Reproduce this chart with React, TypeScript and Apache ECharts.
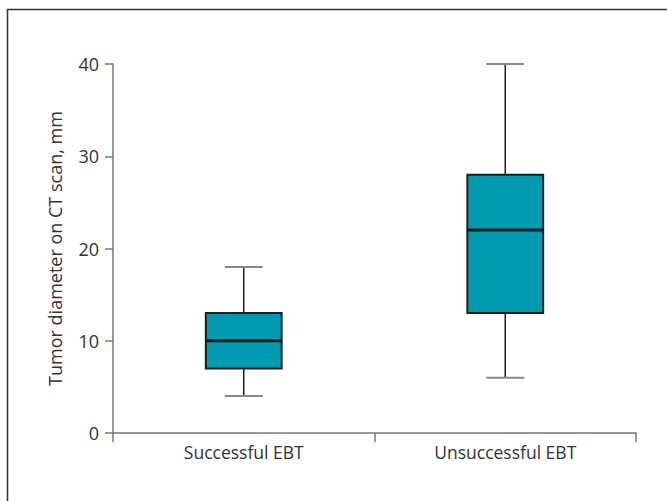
import React, { useEffect, useRef } from "react";
import * as echarts from "echarts";

const categories = ["Successful EBT", "Unsuccessful EBT"];
const mins = [4, 6];
const q1s = [7, 13];
const medians = [10, 22];
const q3s = [13, 28];
const maxs = [18, 40];
const yTicks = [0, 10, 20, 30, 40];

export default function App() {
  const ref = useRef<HTMLDivElement>(null);
  useEffect(() => {
    const chart = echarts.init(ref.current!, null, { renderer: "svg" });
    const data = categories.map((_, i) => [i, mins[i], q1s[i], medians[i], q3s[i], maxs[i]]);
    const fontFamily = "'Open Sans', 'Noto Sans', sans-serif";
    chart.setOption({
      animation: false,
      backgroundColor: "#ffffff",
      grid: { left: 113, right: 31, top: 64, bottom: 68, containLabel: false },
      xAxis: {
        type: "category",
        data: categories,
        boundaryGap: true,
        axisLine: { lineStyle: { color: "#777777", width: 1.5 } },
        axisTick: { show: true, length: 9, lineStyle: { color: "#777777", width: 1.5 } },
        axisLabel: { color: "#333333", fontSize: 17.5, fontFamily, margin: 10 },
        splitLine: { show: false },
      },
      yAxis: {
        type: "value",
        min: yTicks[0],
        max: yTicks[yTicks.length - 1],
        interval: 10,
        name: "Tumor diameter on CT scan, mm",
        nameLocation: "middle",
        nameGap: 49,
        nameTextStyle: { color: "#333333", fontSize: 18, fontFamily },
        axisLine: { show: true, lineStyle: { color: "#777777", width: 1.5 } },
        axisTick: { show: true, length: 8, lineStyle: { color: "#777777", width: 1.5 } },
        axisLabel: { color: "#333333", fontSize: 18, fontFamily, margin: 14 },
        splitLine: { show: false },
      },
      graphic: [
        { type: "line", shape: { x1: 7.5, y1: 9, x2: 7.5, y2: 501 }, style: { stroke: "#333333", lineWidth: 1.5 } },
        { type: "line", shape: { x1: 7, y1: 9.5, x2: 667, y2: 9.5 }, style: { stroke: "#333333", lineWidth: 1.5 } },
      ],
      series: [
        {
          type: "custom",
          data,
          encode: { x: 0, y: [1, 2, 3, 4, 5] },
          renderItem: (params: any, api: any) => {
            const idx = api.value(0);
            const pMin = api.coord([idx, api.value(1)]);
            const pQ1 = api.coord([idx, api.value(2)]);
            const pMed = api.coord([idx, api.value(3)]);
            const pQ3 = api.coord([idx, api.value(4)]);
            const pMax = api.coord([idx, api.value(5)]);
            const bw = api.size([1, 0])[0] * 0.29;
            const cx = pMed[0];
            const capHalf = bw / 4;
            return {
              type: "group",
              children: [
                { type: "line", shape: { x1: cx, y1: pMax[1], x2: cx, y2: pQ3[1] }, style: { stroke: "#231f20", lineWidth: 1.5 } },
                { type: "line", shape: { x1: cx, y1: pQ1[1], x2: cx, y2: pMin[1] }, style: { stroke: "#231f20", lineWidth: 1.5 } },
                { type: "line", shape: { x1: cx - capHalf, y1: pMax[1], x2: cx + capHalf, y2: pMax[1] }, style: { stroke: "#888888", lineWidth: 2 } },
                { type: "line", shape: { x1: cx - capHalf, y1: pMin[1], x2: cx + capHalf, y2: pMin[1] }, style: { stroke: "#888888", lineWidth: 2 } },
                {
                  type: "rect",
                  shape: { x: cx - bw / 2, y: pQ3[1], width: bw, height: pQ1[1] - pQ3[1] },
                  style: { fill: "#009bb0", stroke: "#231f20", lineWidth: 2 },
                },
                { type: "line", shape: { x1: cx - bw / 2, y1: pMed[1], x2: cx + bw / 2, y2: pMed[1] }, style: { stroke: "#1a1a1a", lineWidth: 3 } },
              ],
            };
          },
        },
      ],
    });
    return () => chart.dispose();
  }, []);
  return <div ref={ref} style={{ position: "fixed", left: 0, top: 0, width: 667, height: 501 }} />;
}
